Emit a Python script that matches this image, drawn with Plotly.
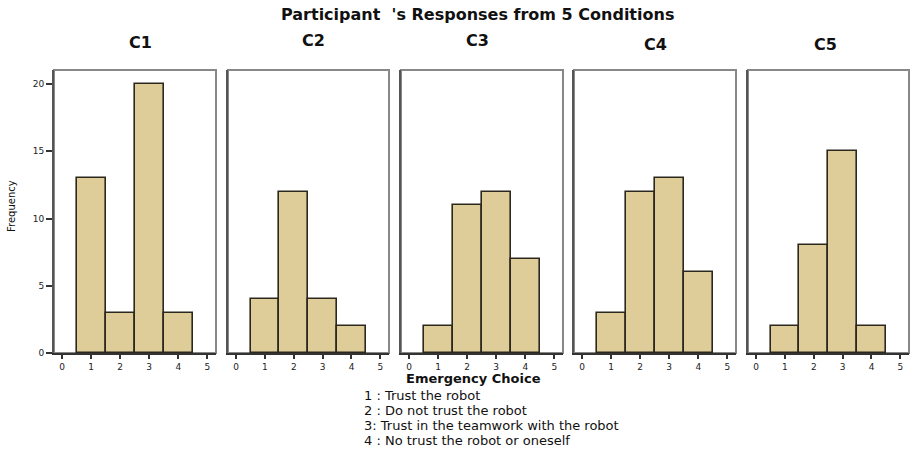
import plotly.graph_objects as go

W, H = 913, 452

conditions = ["C1", "C2", "C3", "C4", "C5"]
choices = [1, 2, 3, 4]
freq_c1 = [13, 3, 20, 3]
freq_c2 = [4, 12, 4, 2]
freq_c3 = [2, 11, 12, 7]
freq_c4 = [3, 12, 13, 6]
freq_c5 = [2, 8, 15, 2]
series = [freq_c1, freq_c2, freq_c3, freq_c4, freq_c5]
x_ticks = [0, 1, 2, 3, 4, 5]
y_ticks = [0, 5, 10, 15, 20]
legend_lines = [
    "1 : Trust the robot",
    "2 : Do not trust the robot",
    "3: Trust in the teamwork with the robot",
    "4 : No trust the robot or oneself",
]

panel_px = [(54, 216), (228, 389), (401, 563), (574, 736), (748, 909)]
title_pos = [(140, 43), (313, 40), (478, 40), (655, 44), (825, 44)]
top_px, bot_px = 70, 353

fig = go.Figure()
BAR_FILL = "rgb(222,205,153)"
BAR_LINE = "rgb(45,40,30)"

for i, (name, vals) in enumerate(zip(conditions, series)):
    ax = "" if i == 0 else str(i + 1)
    fig.add_trace(go.Bar(
        x=choices, y=vals, width=1.0,
        marker=dict(color=BAR_FILL, line=dict(color=BAR_LINE, width=1.6)),
        xaxis="x" + ax, yaxis="y" + ax, showlegend=False,
    ))
    l, r = panel_px[i]
    dom_x = [l / W, r / W]
    dom_y = [1 - bot_px / H, 1 - top_px / H]
    fig.layout["xaxis" + ax] = dict(
        domain=dom_x, range=[-0.28, 5.3], tickvals=x_ticks,
        ticks="outside", ticklen=4, tickwidth=2, tickcolor="#333",
        showline=True, linecolor="#333", linewidth=2,
        showgrid=False, zeroline=False, anchor="y" + ax,
        tickfont=dict(family="DejaVu Sans", size=9, color="#222"),
        fixedrange=True, automargin=False,
    )
    fig.layout["yaxis" + ax] = dict(
        domain=dom_y, range=[0, 21.05], tickvals=y_ticks,
        ticks="outside" if i == 0 else "", ticklen=6, tickwidth=1.5, tickcolor="#333",
        showticklabels=(i == 0),
        showline=True, linecolor="#555", linewidth=2,
        showgrid=False, zeroline=False, anchor="x" + ax,
        tickfont=dict(family="DejaVu Sans", size=9, color="#222"),
        fixedrange=True, automargin=False,
    )
    fig.add_shape(type="rect", xref="x" + ax + " domain", yref="y" + ax + " domain",
                  x0=0, x1=1, y0=0, y1=1, line=dict(color="#888", width=2),
                  layer="below")
    tx, ty = title_pos[i]
    fig.add_annotation(text="<b>" + name + "</b>", x=tx / W, y=1 - ty / H,
                       xref="paper", yref="paper", showarrow=False,
                       font=dict(family="DejaVu Sans", size=16, color="#111"),
                       xanchor="center", yanchor="middle")

fig.add_annotation(text="<b>Participant  's Responses from 5 Conditions</b>",
                   x=478 / W, y=1 - 15 / H, xref="paper", yref="paper",
                   showarrow=False, xanchor="center", yanchor="middle",
                   font=dict(family="DejaVu Sans", size=16, color="#111"))
fig.add_annotation(text="<b>Emergency Choice</b>", x=473 / W, y=1 - 378 / H,
                   xref="paper", yref="paper", showarrow=False,
                   xanchor="center", yanchor="middle",
                   font=dict(family="DejaVu Sans", size=13, color="#111"))
fig.add_annotation(text="Frequency", x=12 / W, y=1 - 206 / H, textangle=-90,
                   xref="paper", yref="paper", showarrow=False,
                   xanchor="center", yanchor="middle",
                   font=dict(family="DejaVu Sans", size=10, color="#111"))
for k, line in enumerate(legend_lines):
    fig.add_annotation(text=line, x=362 / W, y=1 - (395 + 15.3 * k) / H,
                       xref="paper", yref="paper", showarrow=False,
                       xanchor="left", yanchor="middle",
                       font=dict(family="DejaVu Sans", size=13, color="#111"))

fig.update_layout(
    width=W, height=H, margin=dict(l=0, r=0, t=0, b=0, autoexpand=False),
    paper_bgcolor="white", plot_bgcolor="white", bargap=0,
)
fig.write_html("out.html", config={"displayModeBar": False},
               post_script="document.body.style.margin='0';document.body.style.overflow='hidden';")
